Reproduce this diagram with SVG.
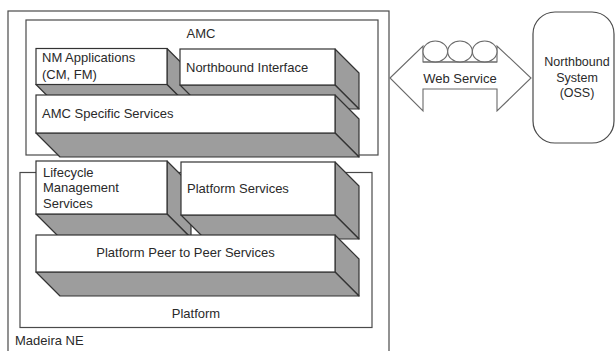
<svg xmlns="http://www.w3.org/2000/svg" width="616" height="351" viewBox="0 0 616 351">
<style>
.frame{fill:none;stroke:#4a4a4a;stroke-width:1.2}
.front{fill:#fff;stroke:#333;stroke-width:1.2}
.face{fill:#9d9d9d;stroke:#333;stroke-width:1.2;stroke-linejoin:round}
.t{font-family:"Liberation Sans",Arial,sans-serif;font-size:13px;fill:#2a2a2a}
.c{text-anchor:middle}
.arrow{fill:#fff;stroke:#6a6a6a;stroke-width:1.1}
</style>
<rect width="616" height="351" fill="#fff"/>
<g id="madeira-ne">
<rect class="frame" x="8" y="11" width="381" height="350"/>
<text class="t" x="15" y="344.5">Madeira NE</text>
</g>
<g id="amc">
<rect class="frame" x="26" y="20" width="352" height="135"/>
<text class="t c" x="201" y="38">AMC</text>
</g>
<g id="nm-applications">
<path class="face" d="M167,48.5 L191,72.5 L191,108.5 L167,84.5 Z"/>
<path class="face" d="M36,84.5 L167,84.5 L191,108.5 L60,108.5 Z"/>
<rect class="front" x="36" y="48.5" width="131" height="36"/>
<text class="t" x="42" y="61.5">NM Applications</text>
<text class="t" x="42" y="78.5">(CM, FM)</text>
</g>
<g id="northbound-interface">
<path class="face" d="M335,49 L359,73 L359,109 L335,85 Z"/>
<path class="face" d="M180,85 L335,85 L359,109 L204,109 Z"/>
<rect class="front" x="180" y="49" width="155" height="36"/>
<text class="t" x="186" y="71.5">Northbound Interface</text>
</g>
<g id="amc-specific-services">
<path class="face" d="M335,95 L359,119 L359,157 L335,133 Z"/>
<path class="face" d="M36,133 L335,133 L359,157 L60,157 Z"/>
<rect class="front" x="36" y="95" width="299" height="38"/>
<text class="t" x="42" y="117.5">AMC Specific Services</text>
</g>
<g id="platform">
<rect class="frame" x="20" y="172.5" width="352" height="155"/>
<text class="t c" x="196" y="317.5">Platform</text>
</g>
<g id="lifecycle-management-services">
<path class="face" d="M167,161 L191,185 L191,238 L167,214 Z"/>
<path class="face" d="M36,214 L167,214 L191,238 L60,238 Z"/>
<rect class="front" x="36" y="161" width="131" height="53"/>
<text class="t" x="43" y="176.5">Lifecycle</text>
<text class="t" x="43" y="191.5">Management</text>
<text class="t" x="43" y="207.5">Services</text>
</g>
<g id="platform-services">
<path class="face" d="M335,162 L359,186 L359,239 L335,215 Z"/>
<path class="face" d="M181,215 L335,215 L359,239 L205,239 Z"/>
<rect class="front" x="181" y="162" width="154" height="53"/>
<text class="t" x="187" y="192.5">Platform Services</text>
</g>
<g id="platform-peer-to-peer-services">
<path class="face" d="M335,235 L359,259 L359,296 L335,272 Z"/>
<path class="face" d="M36,272 L335,272 L359,296 L60,296 Z"/>
<rect class="front" x="36" y="235" width="299" height="37"/>
<text class="t c" x="185.5" y="256.5">Platform Peer to Peer Services</text>
</g>
<g id="connectors">
<g id="web-service">
<polygon class="arrow" points="390,78 423,46 423,62 497,62 497,46 531,78 497,111 497,89 423,89 423,111"/>
<ellipse class="arrow" cx="435.3" cy="51.5" rx="12.3" ry="10.5"/>
<ellipse class="arrow" cx="460" cy="51.5" rx="12.3" ry="10.5"/>
<ellipse class="arrow" cx="484.7" cy="51.5" rx="12.3" ry="10.5"/>
<line x1="423" y1="62" x2="497" y2="62" stroke="#6a6a6a" stroke-width="1.1"/>
<text class="t c" x="460" y="82.5">Web Service</text>
</g>
</g>
<g id="northbound-system">
<rect x="533" y="12" width="81" height="131" rx="22" ry="22" fill="#fff" stroke="#4a4a4a" stroke-width="1.2"/>
<text class="t c" x="577" y="66" style="font-size:12.5px">Northbound</text>
<text class="t c" x="577" y="81.5" style="font-size:12.5px">System</text>
<text class="t c" x="577" y="97" style="font-size:12.5px">(OSS)</text>
</g>
</svg>
